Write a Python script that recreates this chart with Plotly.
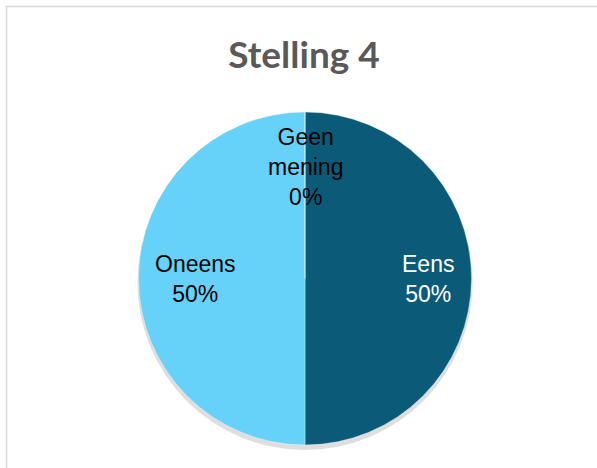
import math
import plotly.graph_objects as go

# Survey answers for statement 4
categories = ["Eens", "Oneens", "Geen mening"]
shares = [50, 50, 0]
slice_colors = ["#0B5A78", "#66D2FA", "#8FB8C8"]
label_colors = ["#FFFFFF", "#000000", "#000000"]
title_text = "Stelling 4"

W, H = 597, 468
cx, cy, r = 305, 278.5, 166.5  # pie centre and radius in pixels
label_radius = {"Eens": 0.74, "Oneens": 0.66, "Geen mening": 0.67}


def px_domain(x0, x1, y0, y1):
    return dict(x=[x0 / W, x1 / W], y=[1 - y1 / H, 1 - y0 / H])


fig = go.Figure()

# soft drop shadow under the pie
fig.add_trace(go.Pie(
    values=[1], labels=["shadow"], sort=False, hole=0,
    marker=dict(colors=["rgba(0,0,0,0.13)"], line=dict(width=0)),
    textinfo="none", hoverinfo="skip", showlegend=False,
    domain=px_domain(cx - r - 1, cx + r + 1, cy - r + 3, cy + r + 5),
))

fig.add_trace(go.Pie(
    values=shares, labels=categories, sort=False, direction="clockwise",
    rotation=0,
    marker=dict(colors=slice_colors, line=dict(color="rgba(255,255,255,0.35)", width=1)),
    textinfo="none", showlegend=False,
    domain=px_domain(cx - r, cx + r, cy - r, cy + r),
))

# data labels placed at each slice's mid-angle
total = sum(shares)
start = 0.0
annotations = []
for name, val, col in zip(categories, shares, label_colors):
    span = 360.0 * val / total
    mid = math.radians(start + span / 2)
    start += span
    rr = label_radius[name] * r
    x = cx + rr * math.sin(mid)
    y = cy - rr * math.cos(mid)
    text = name.replace(" ", "<br>") + f"<br>{val}%"
    annotations.append(dict(
        x=x / W, y=1 - y / H, xref="paper", yref="paper",
        xanchor="center", yanchor="middle",
        text=text, showarrow=False, align="center",
        font=dict(family="Liberation Sans, Arial, sans-serif", size=23, color=col),
    ))

fig.update_layout(
    width=W, height=H,
    margin=dict(l=0, r=0, t=0, b=0),
    paper_bgcolor="white", plot_bgcolor="white",
    title=dict(
        text=f"<b>{title_text}</b>", x=304 / W, xanchor="center",
        y=1 - 55 / H, yanchor="middle",
        font=dict(family="Lato, Carlito, Calibri, sans-serif", size=37, color="#595959"),
    ),
    annotations=annotations,
    shapes=[dict(
        type="rect", xref="paper", yref="paper",
        x0=6.5 / W, x1=1.05, y0=-0.05, y1=1 - 6.5 / H,
        line=dict(color="#D9D9D9", width=1.5), fillcolor="rgba(0,0,0,0)",
    )],
)

fig.write_html("out.html")
